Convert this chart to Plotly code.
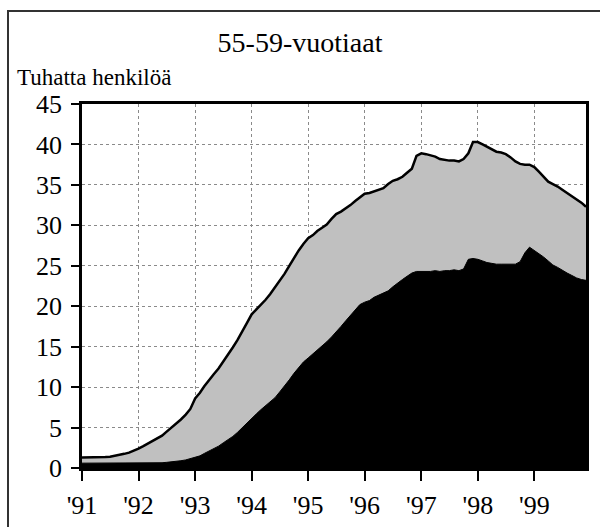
import plotly.graph_objects as go
import pandas as pd

# Monthly figures, January 1991 - December 1999 (thousands of persons)
months = pd.date_range("1991-01-01", "1999-12-01", freq="MS")

total = [
    1.3, 1.3, 1.3, 1.3, 1.3, 1.35, 1.4, 1.5, 1.6, 1.75, 1.9, 2.1,
    2.4, 2.7, 3.0, 3.3, 3.6, 4.0, 4.5, 5.0, 5.4, 6.0, 6.6, 7.3,
    8.6, 9.3, 10.1, 10.9, 11.6, 12.3, 13.1, 14.0, 14.9, 15.8, 16.8, 17.9,
    19.0, 19.6, 20.2, 20.8, 21.5, 22.3, 23.1, 24.0, 25.0, 26.0, 26.9, 27.7,
    28.4, 28.8, 29.3, 29.7, 30.1, 30.8, 31.4, 31.7, 32.1, 32.5, 33.0, 33.5,
    33.9, 34.0, 34.2, 34.4, 34.6, 35.1, 35.5, 35.7, 36.0, 36.5, 37.0, 38.6,
    38.9, 38.8, 38.7, 38.5, 38.2, 38.1, 38.0, 38.0, 37.9, 38.2, 38.9, 40.3,
    40.3, 40.0, 39.7, 39.4, 39.1, 39.0, 38.8, 38.4, 37.9, 37.6, 37.5, 37.5,
    37.2, 36.6, 36.0, 35.4, 35.1, 34.8, 34.4, 34.0, 33.6, 33.2, 32.8, 32.3,
]

subgroup = [
    0.6, 0.6, 0.6, 0.6, 0.6, 0.6, 0.6, 0.6, 0.6, 0.6, 0.6, 0.6,
    0.6, 0.6, 0.6, 0.6, 0.6, 0.65, 0.7, 0.75, 0.8, 0.9, 1.0, 1.15,
    1.3, 1.5, 1.8, 2.1, 2.4, 2.7, 3.1, 3.5, 3.9, 4.4, 5.0, 5.6,
    6.2, 6.7, 7.2, 7.7, 8.2, 8.7, 9.4, 10.1, 10.9, 11.7, 12.4, 13.1,
    13.6, 14.1, 14.5, 15.0, 15.6, 16.2, 16.8, 17.5, 18.2, 18.9, 19.6, 20.2,
    20.5, 20.7, 21.1, 21.4, 21.7, 21.9, 22.4, 22.9, 23.3, 23.7, 24.1, 24.3,
    24.3, 24.3, 24.3, 24.4, 24.3, 24.4, 24.4, 24.5, 24.4, 24.6, 25.8, 25.9,
    25.8, 25.6, 25.4, 25.3, 25.2, 25.2, 25.2, 25.2, 25.2, 25.5, 26.6, 27.3,
    26.9, 26.5, 26.1, 25.6, 25.1, 24.8, 24.4, 24.1, 23.8, 23.5, 23.3, 23.2,
]

year_ticks = pd.date_range("1991-01-01", "1999-01-01", freq="YS")
year_labels = ["'91", "'92", "'93", "'94", "'95", "'96", "'97", "'98", "'99"]
y_ticks = [0, 5, 10, 15, 20, 25, 30, 35, 40, 45]

FONT = "Liberation Serif"

fig = go.Figure()
fig.add_trace(go.Scatter(
    x=months, y=total, mode="lines", fill="tozeroy",
    fillcolor="#c0c0c0", line=dict(color="black", width=2.5),
    hoverinfo="skip", showlegend=False,
))
fig.add_trace(go.Scatter(
    x=months, y=subgroup, mode="lines", fill="tozeroy",
    fillcolor="black", line=dict(color="black", width=1),
    hoverinfo="skip", showlegend=False,
))

L, R, T, B = 82, 14, 104, 59
W, H = 600, 527
pw, ph = W - L - R, H - T - B

fig.update_layout(
    width=W, height=H,
    margin=dict(l=L, r=R, t=T, b=B, autoexpand=False),
    paper_bgcolor="white", plot_bgcolor="white",
    font=dict(family=FONT, size=26, color="black"),
    title=dict(text="55-59-vuotiaat", x=0.5, xanchor="center",
               y=1 - 42 / H, yanchor="middle",
               font=dict(family=FONT, size=28, color="black")),
    xaxis=dict(
        range=[months[0], months[-1]],
        tickvals=year_ticks, ticktext=year_labels,
        ticks="outside", ticklen=10, tickwidth=1.5, tickcolor="black",
        showgrid=True, gridcolor="#8a8a8a", griddash="dot", gridwidth=1,
        showline=True, linecolor="black", linewidth=2.5, mirror=True,
        zeroline=False, tickfont=dict(family=FONT, size=26),
        ticklabelstandoff=2, automargin=False,
    ),
    yaxis=dict(
        range=[0, 45], tickvals=y_ticks,
        ticks="outside", ticklen=8, tickwidth=1.5, tickcolor="black",
        showgrid=True, gridcolor="#8a8a8a", griddash="dot", gridwidth=1,
        showline=True, linecolor="black", linewidth=2.5, mirror=True,
        zeroline=False, tickfont=dict(family=FONT, size=26),
        ticklabelstandoff=4, automargin=False,
    ),
    annotations=[dict(
        text="Tuhatta henkilöä", xref="paper", yref="paper",
        x=(15 - L) / pw, y=(H - B - 77) / ph, xanchor="left", yanchor="middle",
        showarrow=False, font=dict(family=FONT, size=23, color="black"),
    )],
    shapes=[dict(
        type="rect", xref="paper", yref="paper", layer="below",
        x0=(8 - L) / pw, x1=(620 - L) / pw,
        y0=(H - B - 540) / ph, y1=(H - B - 11) / ph,
        line=dict(color="#333333", width=2), fillcolor="rgba(0,0,0,0)",
    )],
)

fig.write_html("out.html")
